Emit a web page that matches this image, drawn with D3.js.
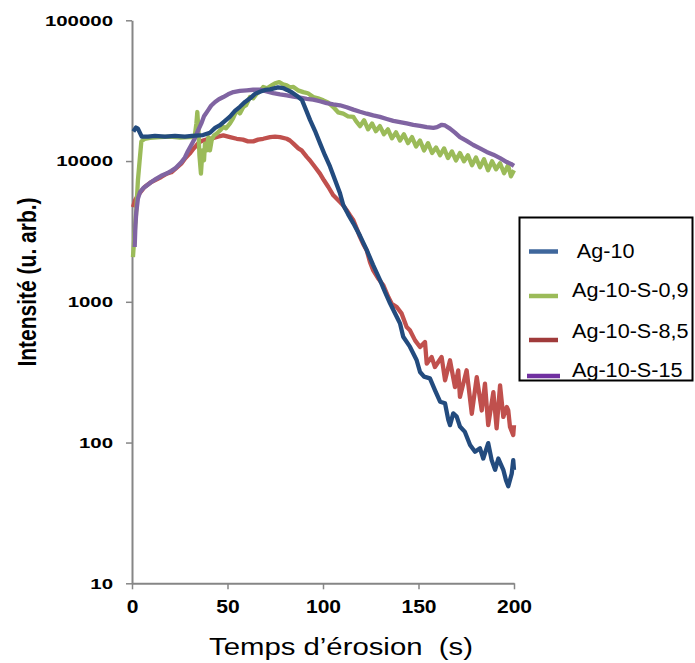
<!DOCTYPE html>
<html><head><meta charset="utf-8">
<script src="https://cdn.jsdelivr.net/npm/d3@7"></script>
<style>
body{margin:0;background:#fff}
svg{display:block}
text{font-family:"Liberation Sans",Arial,sans-serif}
</style>
</head><body>
<svg id="c" width="695" height="663"></svg>
<script>
// ---- data (time in s, intensity in arbitrary units) ----
const seriesNames = ["Ag-10", "Ag-10-S-0,9", "Ag-10-S-8,5", "Ag-10-S-15"];
const legendLabels = [" Ag-10", "Ag-10-S-0,9", "Ag-10-S-8,5", "Ag-10-S-15"];
const seriesColors = ["#234b7e", "#9bbb59", "#c0504d", "#8064a2"];
const legendColors = ["#3f679c", "#9bbb59", "#a03b3b", "#7030a0"];

const ag10 = [[0.7,16200],[2.1,17300],[3.1,17000],[5.1,14900],[8.4,14900],[12.0,15100],[17.3,14900],[22.5,15100],[27.7,14900],[31.4,15100],[37.2,15300],[40.8,15900],[43.5,17200],[46.1,18000],[48.7,19300],[51.3,20700],[53.9,22700],[56.5,24300],[59.2,26300],[61.8,27900],[64.4,30000],[67.0,31100],[69.6,32000],[72.3,32300],[76.4,33400],[79.1,33000],[81.2,32000],[83.8,30700],[86.4,29000],[89.0,27100],[91.1,23100],[93.2,19600],[95.8,16400],[98.4,13400],[101.0,11000],[103.7,9120],[106.3,7340],[108.9,5900],[110.6,4870],[113.1,4200],[115.9,3610],[119.4,2940],[122.9,2330],[126.2,1830],[129.8,1430],[132.5,1170],[135.1,976],[138.6,783],[140.3,703],[142.0,565],[145.5,480],[149.0,386],[150.8,317],[152.9,294],[156.0,286],[158.6,236],[161.3,195],[163.9,190],[165.6,145],[166.5,133],[168.2,161],[170.0,153],[171.7,130],[174.3,119],[177.0,96],[179.6,86],[182.2,91],[183.9,77],[186.5,99],[188.3,75],[190.1,64],[191.8,77],[194.4,64],[195.8,54],[197.0,49],[198.8,60],[199.6,75],[200,64]];

const ag10S09 = [[0.5,2080],[1.3,2970],[2.25,4470],[3.1,7300],[4.0,10100],[4.9,13800],[6.7,14400],[9.4,14600],[14.7,14800],[19.9,14900],[25.1,14700],[30.4,14800],[32.8,14800],[33.7,18500],[34.2,22300],[34.8,16500],[35.3,11000],[36.1,8150],[36.9,11900],[37.7,10100],[38.2,13300],[39.0,11900],[40.0,14800],[40.8,11900],[41.7,14000],[42.9,15200],[44.4,15700],[46.1,16500],[47.8,17500],[49.2,17100],[51.3,18500],[52.9,20100],[54.8,22900],[56.5,21800],[58.3,24200],[59.7,24900],[61.8,28500],[63.4,27900],[65.3,30100],[67.0,31300],[68.7,33600],[70.7,32900],[73.1,34500],[74.9,35700],[77.1,36400],[79.1,35100],[81.0,34500],[82.7,33400],[84.5,33600],[86.9,31800],[89.7,30900],[92.1,30300],[94.9,28500],[97.4,27900],[100.2,27000],[102.6,26100],[105.4,24200],[107.9,22200],[110.6,21700],[113.1,20800],[115.9,20600],[117.3,19200],[119.4,17700],[121.5,19500],[123.6,16800],[125.7,18500],[127.7,16300],[129.8,17700],[131.9,15500],[134.0,16800],[136.1,14500],[138.2,16000],[140.3,14000],[142.4,15500],[144.5,13400],[146.6,14800],[148.7,12700],[150.8,14000],[152.9,11900],[155.0,13400],[157.1,11400],[159.2,12500],[161.3,11000],[163.4,12300],[165.4,10500],[167.5,11700],[169.6,10100],[171.7,11400],[173.8,9960],[175.9,11000],[178.0,9330],[180.1,10600],[182.2,9030],[184.3,10300],[186.4,8600],[188.5,9960],[190.6,8740],[192.7,9640],[194.8,8190],[196.9,9330],[198.4,7790],[200,8600]];

const ag10S85 = [[0.5,4710],[1.6,5260],[3.1,5710],[6.6,6540],[10.1,7090],[15.3,7700],[18.2,8140],[20.6,8320],[23.0,8880],[25.8,9580],[28.0,10500],[30.2,11300],[31.9,12100],[33.7,12900],[35.1,13600],[37.2,14000],[39.3,14300],[41.9,14500],[45.0,14900],[47.8,15200],[51.3,14800],[54.8,14400],[58.1,14200],[60.7,13800],[63.5,13800],[66.0,14200],[68.7,14400],[72.3,14800],[74.9,14900],[77.5,14800],[81.0,14400],[82.7,14000],[84.5,13300],[87.1,12300],[88.8,11900],[91.5,10700],[93.2,10100],[95.8,9070],[98.4,8140],[100.5,7300],[102.8,6540],[105.4,5710],[108.9,5110],[110.5,4850],[112.4,4470],[114.1,4120],[115.9,3800],[117.6,3330],[119.4,2880],[120.9,2600],[122.9,2320],[124.6,1910],[126.3,1670],[128.8,1470],[131.6,1310],[134.2,1080],[136.0,970],[138.6,918],[141.2,824],[143.8,662],[145.5,627],[148.2,532],[150.8,477],[153.4,518],[154.3,364],[156.9,405],[158.6,344],[162.1,405],[163.9,277],[166.5,384],[169.1,248],[170.8,326],[171.7,211],[175.2,326],[177.9,160],[180.5,292],[183.1,169],[184.8,262],[186.5,133],[189.2,228],[190.9,126],[192.7,255],[194.4,152],[196.2,179],[197.0,169],[197.9,129],[199.6,113],[200,133]];

const ag10S15 = [[1.4,2450],[1.8,3500],[2.25,4320],[3.1,5410],[4.2,6020],[5.8,6400],[7.9,6730],[10.1,7090],[12.6,7470],[15.3,7850],[17.8,8110],[20.6,8520],[23.0,8950],[25.8,9790],[27.7,10600],[29.3,11800],[30.9,12900],[32.8,14400],[34.6,16500],[36.3,18500],[37.7,20800],[39.8,22900],[41.4,24700],[43.5,26300],[45.5,27500],[47.8,28500],[50.3,29800],[53.1,30900],[56.5,31500],[60.1,31800],[63.4,32100],[67.0,32200],[70.5,31300],[74.0,30400],[77.5,29800],[81.0,29300],[84.5,28700],[88.0,28200],[91.5,27700],[94.9,27300],[98.4,26600],[101.9,25800],[105.4,25300],[108.9,24900],[112.4,24100],[115.9,23200],[119.4,22400],[122.9,21700],[126.3,21100],[129.8,20600],[133.4,19900],[136.8,19300],[140.3,18900],[143.8,18500],[147.3,18100],[150.8,17800],[154.3,17400],[157.8,17200],[159.7,17400],[162.2,18100],[163.9,17900],[166.5,17000],[169.1,15900],[171.7,14800],[175.2,13900],[178.7,13000],[182.2,12300],[185.7,11600],[189.2,11100],[192.7,10500],[196.2,9840],[198.4,9550],[200,9250]];

const xTicks = [0, 50, 100, 150, 200];
const yTicks = [10, 100, 1000, 10000, 100000];
const xTitle = "Temps d\u2019érosion  (s)";
const yTitle = "Intensité (u. arb.)";

// ---- drawing ----
const svg = d3.select("#c");
svg.append("rect").attr("width", 695).attr("height", 663).attr("fill", "#fff");

const x = d3.scaleLinear().domain([0, 200]).range([132, 514]);
const y = d3.scaleLog().domain([10, 100000]).range([583.3, 20.3]);
const axisColor = "#868686";

function stretch(sel, factor) {
  sel.each(function () {
    const w = this.getComputedTextLength();
    d3.select(this).attr("textLength", w * factor).attr("lengthAdjust", "spacingAndGlyphs");
  });
}

// y axis
const gy = svg.append("g").attr("transform", "translate(132,0)")
  .call(d3.axisLeft(y).tickValues(yTicks).tickFormat(d3.format("d")).tickSize(6).tickSizeOuter(0).tickPadding(13));
gy.select(".domain").attr("stroke", axisColor).attr("stroke-width", 2);
gy.selectAll(".tick line").attr("stroke", axisColor).attr("stroke-width", 1.5);
gy.selectAll(".tick text").attr("fill", "#000").style("font-size", "15px").style("font-weight", "bold")
  .style("font-family", "'Liberation Sans', Arial, sans-serif");
stretch(gy.selectAll(".tick text"), 1.36);

// x axis
const gx = svg.append("g").attr("transform", "translate(0,583.3)")
  .call(d3.axisBottom(x).tickValues(xTicks).tickFormat(d3.format("d")).tickSize(6).tickSizeOuter(0).tickPadding(11));
gx.select(".domain").attr("stroke", axisColor).attr("stroke-width", 2);
gx.selectAll(".tick line").attr("stroke", axisColor).attr("stroke-width", 1.5);
gx.selectAll(".tick text").attr("fill", "#000").style("font-size", "18px").style("font-weight", "bold")
  .style("font-family", "'Liberation Sans', Arial, sans-serif");
stretch(gx.selectAll(".tick text"), 1.17);

// series
const line = d3.line().x(d => x(d[0])).y(d => y(d[1]));
const allSeries = [ag10, ag10S09, ag10S85, ag10S15];
const drawOrder = [2, 1, 3, 0];
drawOrder.forEach(i => {
  svg.append("path").datum(allSeries[i])
    .attr("d", line)
    .attr("fill", "none")
    .attr("stroke", seriesColors[i])
    .attr("stroke-width", 4.3)
    .attr("stroke-linejoin", "round")
    .attr("stroke-linecap", "butt");
});

// axis titles
const xt = svg.append("text").attr("x", 341).attr("y", 655)
  .attr("text-anchor", "middle").style("font-size", "23px").style("white-space", "pre")
  .text(xTitle);
xt.attr("textLength", 264).attr("lengthAdjust", "spacingAndGlyphs");

svg.append("text")
  .attr("transform", "translate(36,282) scale(1.2,1) rotate(-90)")
  .attr("text-anchor", "middle").style("font-size", "21px").style("font-weight", "bold")
  .text(yTitle);

// legend
const lg = svg.append("g");
lg.append("rect").attr("x", 519.5).attr("y", 217.5).attr("width", 173).attr("height", 163)
  .attr("fill", "#fff").attr("stroke", "#000").attr("stroke-width", 2);
const markerY = [251.5, 296, 340, 376];
const textY = [258, 297, 338, 377];
seriesNames.forEach((name, i) => {
  lg.append("line").attr("x1", i === 3 ? 527 : 529).attr("x2", i === 3 ? 560 : 558)
    .attr("y1", markerY[i]).attr("y2", markerY[i])
    .attr("stroke", legendColors[i]).attr("stroke-width", 4.5);
  const t = lg.append("text").attr("x", 572).attr("y", textY[i])
    .style("font-size", "20px").style("white-space", "pre").text(legendLabels[i]);
  stretch(t, 1.08);
});
</script>
</body></html>
